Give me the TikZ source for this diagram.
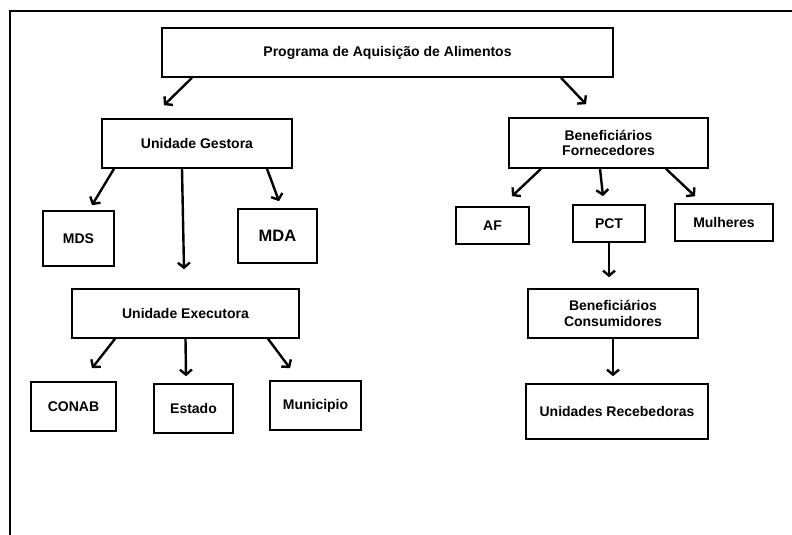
\documentclass[tikz,border=0pt]{standalone}
\usepackage{fontspec}
\setmainfont{Liberation Sans}
\usepackage{xcolor}
\usetikzlibrary{arrows.meta}

\tikzset{
	caixa/.style={draw, line width=1.6pt, align=center, inner sep=0pt, font=\bfseries\fontsize{14}{15.5}\selectfont},
	seta/.style={line width=2.4pt, -{Straight Barb[length=5pt,width=12pt,line width=2.4pt]}}
}

\begin{document}
\begin{tikzpicture}[x=1pt, y=-1pt]
				\useasboundingbox (0,0) rectangle (792,535);
				% moldura
				\draw[line width=2pt] (10,535) -- (10,11) -- (792,11);
				% caixas
				\node[caixa, minimum width=451pt, minimum height=49pt] (prog) at (387.5,52.5) {Programa de Aquisição de Alimentos};
				\node[caixa, minimum width=190pt, minimum height=49pt] (ug) at (197,143.5) {Unidade Gestora};
				\node[caixa, minimum width=71pt, minimum height=55pt] (mds) at (78.5,238.5) {MDS};
				\node[caixa, minimum width=79pt, minimum height=54pt, font=\bfseries\fontsize{16.5}{18}\selectfont] (mda) at (277.5,236) {MDA};
				\node[caixa, minimum width=227pt, minimum height=49pt] (ue) at (185.5,313.5) {Unidade Executora};
				\node[caixa, minimum width=85pt, minimum height=49pt] (conab) at (73.5,406.5) {CONAB};
				\node[caixa, minimum width=79pt, minimum height=49pt] (estado) at (193.5,408.5) {Estado};
				\node[caixa, minimum width=91pt, minimum height=49pt] (munic) at (315.5,405.5) {Municipio};
				\node[caixa, minimum width=199pt, minimum height=50pt] (bf) at (608.5,143) {Beneficiários\\Fornecedores};
				\node[caixa, minimum width=73pt, minimum height=37pt] (af) at (492.5,225.5) {AF};
				\node[caixa, minimum width=72pt, minimum height=37pt] (pct) at (609,223.5) {PCT};
				\node[caixa, minimum width=98pt, minimum height=37pt] (mulh) at (724,222.5) {Mulheres};
				\node[caixa, minimum width=170pt, minimum height=49pt] (bc) at (613,313.5) {Beneficiários\\Consumidores};
				\node[caixa, minimum width=182pt, minimum height=55pt] (ur) at (617,411.5) {Unidades Recebedoras};
				% setas
				\draw[seta] ([xshift=-195.5pt]prog.south) -- ([xshift=-33pt,yshift=13pt]ug.north);
				\draw[seta] ([xshift=173.5pt]prog.south) -- ([xshift=-22.5pt,yshift=13pt]bf.north);
				\draw[seta] ([xshift=-83pt]ug.south) -- ([xshift=13.5pt,yshift=5pt]mds.north);
				\draw[seta] ([xshift=-15pt]ug.south) -- ([xshift=-1.5pt,yshift=19pt]ue.north);
				\draw[seta] ([xshift=70pt]ug.south) -- ([xshift=1.5pt,yshift=7pt]mda.north);
				\draw[seta] ([xshift=-70.5pt]ue.south) -- ([xshift=18.5pt,yshift=13pt]conab.north);
				\draw[seta] (ue.south) -- ([xshift=-7.5pt,yshift=7pt]estado.north);
				\draw[seta] ([xshift=82.5pt]ue.south) -- ([xshift=-25.5pt,yshift=12pt]munic.north);
				\draw[seta] ([xshift=-67.5pt]bf.south) -- ([xshift=19.5pt,yshift=10pt]af.north);
				\draw[seta] ([xshift=-8.5pt]bf.south) -- ([xshift=-6pt,yshift=8pt]pct.north);
				\draw[seta] ([xshift=57.5pt]bf.south) -- ([xshift=-29pt,yshift=7pt]mulh.north);
				\draw[seta] (pct.south) -- ([xshift=-4pt,yshift=11pt]bc.north);
				\draw[seta] (bc.south) -- ([xshift=-4pt,yshift=7pt]ur.north);
			\end{tikzpicture}
\end{document}
